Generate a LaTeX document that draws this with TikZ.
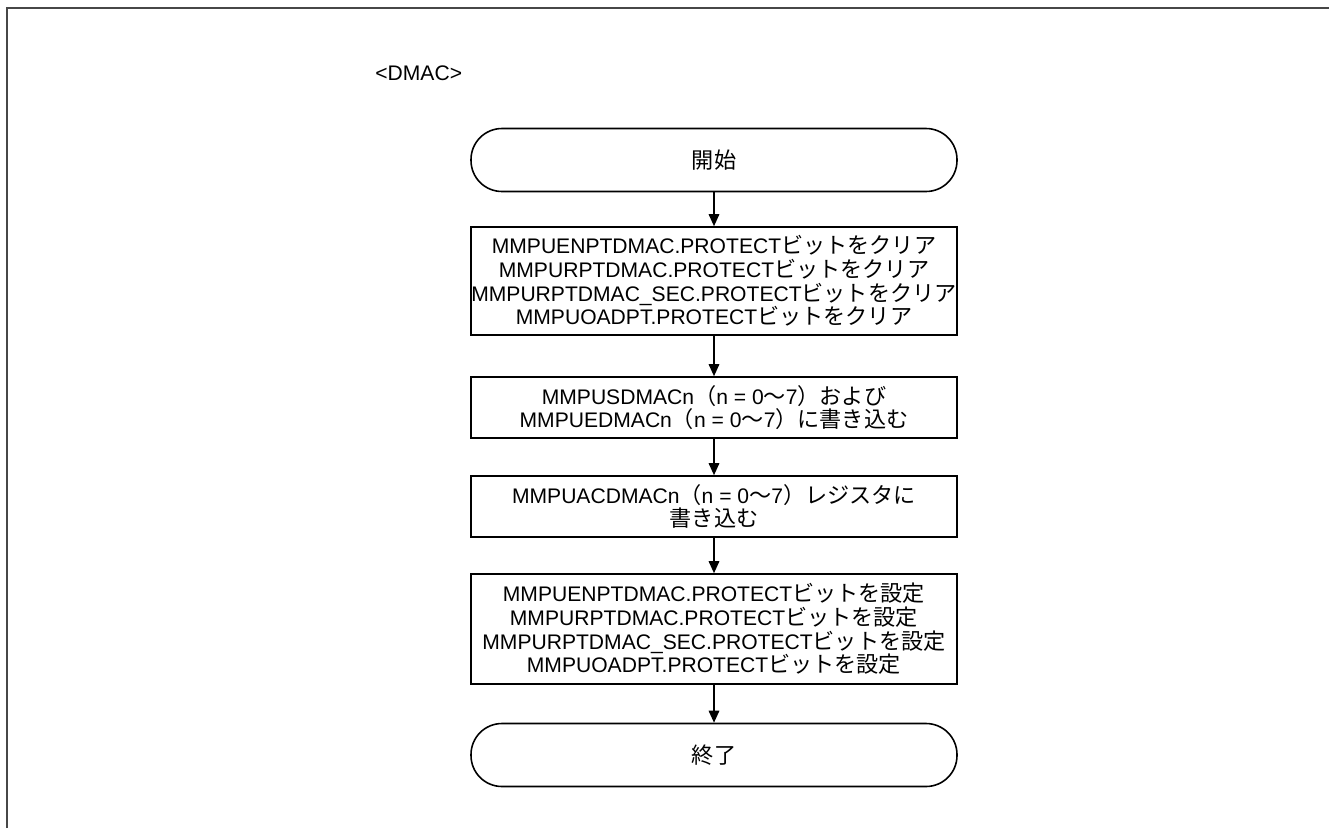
\documentclass[tikz,border=0pt]{standalone}
\usepackage{fontspec}
\setmainfont{Liberation Sans}
\newfontfamily\jp{Noto Sans CJK JP}[Scale=1.05]
\usetikzlibrary{arrows.meta,positioning}

\begin{document}
\begin{tikzpicture}[
  term/.style={draw=black, line width=0.9pt, rounded corners=0.62cm, minimum width=9.72cm, minimum height=1.26cm, inner sep=0pt, align=center, font=\fontsize{12pt}{13.5pt}\selectfont},
  proc/.style={draw=black, line width=0.9pt, minimum width=9.72cm, inner sep=0pt, align=center, font=\fontsize{12pt}{13.5pt}\selectfont},
  arr/.style={-{Triangle[length=0.24cm, width=0.21cm]}, line width=0.9pt, black},
  lbl/.style={font=\fontsize{12pt}{13.5pt}\selectfont, inner sep=0pt}]

\useasboundingbox (0,0) rectangle (26.58,-16.56);
%% frame
\draw[line width=1.1pt, black!72] (0.14,-16.56) -- (0.14,-0.16) -- (26.58,-0.16);

\node[lbl, anchor=west] (title) at (7.5,-1.46) {<DMAC>};

%% flow
\node[term] (s0) at (14.28,-3.20) {{\jp 開始}};
\node[proc, minimum height=2.16cm] (s1) at (14.28,-5.62)
  {MMPUENPTDMAC.PROTECT{\jp ビットをクリア}\\
   MMPURPTDMAC.PROTECT{\jp ビットをクリア}\\
   MMPURPTDMAC\_SEC.PROTECT{\jp ビットをクリア}\\
   MMPUOADPT.PROTECT{\jp ビットをクリア}};
\node[proc, minimum height=1.22cm] (s2) at (14.28,-8.15)
  {MMPUSDMACn{\jp （}n = 0{\jp 〜}7{\jp ）および}\\
   MMPUEDMACn{\jp （}n = 0{\jp 〜}7{\jp ）に書き込む}};
\node[proc, minimum height=1.22cm] (s3) at (14.28,-10.13)
  {MMPUACDMACn{\jp （}n = 0{\jp 〜}7{\jp ）レジスタに}\\
   {\jp 書き込む}};
\node[proc, minimum height=2.2cm] (s4) at (14.28,-12.58)
  {MMPUENPTDMAC.PROTECT{\jp ビットを設定}\\
   MMPURPTDMAC.PROTECT{\jp ビットを設定}\\
   MMPURPTDMAC\_SEC.PROTECT{\jp ビットを設定}\\
   MMPUOADPT.PROTECT{\jp ビットを設定}};
\node[term] (s5) at (14.28,-15.10) {{\jp 終了}};
\foreach \a/\b in {s0/s1,s1/s2,s2/s3,s3/s4,s4/s5}{\draw[arr] (\a) -- (\b);}
\end{tikzpicture}
\end{document}
